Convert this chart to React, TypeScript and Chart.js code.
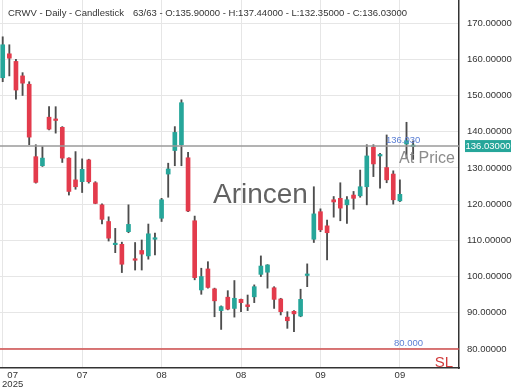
import React, { useEffect, useRef } from 'react';
import { Chart, registerables } from 'chart.js';

Chart.register(...registerables);

// ---- data (63 daily candles) ----
const opens = [
  154.9, 161.5, 159.4, 155.4, 153.1, 133.1, 130.6, 144.0, 143.4, 141.2,
  132.7, 126.7, 126.2, 132.2, 125.9, 119.8, 115.2, 108.8, 108.9, 112.4,
  104.7, 107.2, 105.7, 110.3, 116.1, 128.3, 134.8, 136.4, 132.8, 115.4,
  96.3, 102.1, 96.6, 90.6, 94.3, 91.2, 93.7, 92.2, 94.4, 100.6,
  101.2, 96.9, 93.8, 88.8, 90.4, 89.1, 100.3, 110.3, 117.9, 114.0,
  121.2, 121.6, 119.8, 122.5, 122.3, 124.8, 135.7, 133.3, 130.1, 128.3,
  120.9, 136.6, 135.9,
];
const highs = [
  166.2, 164.0, 160.0, 156.3, 153.8, 136.4, 135.9, 146.9, 146.9, 141.4,
  132.8, 134.5, 132.5, 132.4, 126.2, 120.1, 116.5, 113.3, 109.5, 119.8,
  109.4, 110.1, 114.5, 112.0, 121.6, 131.3, 141.4, 148.8, 134.3, 116.7,
  102.3, 104.1, 96.8, 91.9, 96.1, 98.9, 93.8, 94.9, 97.7, 105.7,
  103.3, 97.2, 94.0, 90.3, 90.6, 96.5, 103.5, 124.8, 118.7, 115.6,
  122.1, 125.9, 122.1, 123.5, 129.4, 136.4, 136.4, 134.0, 139.1, 129.2,
  126.7, 142.6, 137.44,
];
const lows = [
  153.8, 155.4, 149.0, 150.0, 136.4, 125.8, 130.4, 140.5, 139.6, 131.5,
  122.5, 124.1, 123.2, 125.8, 120.1, 114.5, 109.8, 106.6, 101.1, 112.1,
  101.8, 101.8, 104.8, 106.0, 115.2, 121.9, 130.6, 130.6, 117.9, 99.1,
  95.1, 96.8, 88.9, 85.4, 90.8, 88.8, 90.3, 90.6, 92.8, 100.0,
  96.8, 91.2, 89.4, 85.7, 84.8, 88.9, 97.2, 109.4, 112.4, 104.6,
  116.4, 115.4, 114.7, 118.6, 121.9, 119.8, 127.6, 124.4, 125.9, 120.0,
  120.7, 132.8, 132.35,
];
const closes = [
  164.0, 160.3, 151.5, 153.4, 138.5, 126.0, 132.7, 140.7, 143.1, 132.7,
  123.5, 124.8, 129.6, 126.2, 120.2, 115.8, 110.6, 108.9, 103.4, 114.4,
  104.5, 106.2, 111.8, 110.5, 121.2, 129.7, 139.8, 148.0, 118.1, 99.7,
  100.0, 97.0, 93.3, 91.7, 91.0, 94.0, 92.8, 91.7, 97.2, 102.9,
  103.2, 93.7, 90.3, 87.8, 89.7, 93.7, 100.5, 117.3, 112.9, 112.1,
  120.6, 118.9, 121.2, 121.6, 124.8, 133.3, 131.1, 133.7, 126.7, 121.2,
  122.7, 137.5, 136.03,
];

// x-axis ticks (candle index) and their labels
const xTickValues = [0, 1.5, 12, 24, 36, 48, 60];
const xTickLabels: (string | string[])[] = ['', ['07', '2025'], '07', '08', '08', '09', '09'];
// y-axis ticks
const yTickValues = [80, 90, 100, 110, 120, 130, 140, 150, 160, 170];

const titleText = 'CRWV - Daily - Candlestick';
const infoText = '63/63 - O:135.90000 - H:137.44000 - L:132.35000 - C:136.03000';
const watermark = 'Arincen';
const stopLoss = 80;
const lastPrice = closes[closes.length - 1];

const UP = '#26a69a';
const DOWN = '#e33b4c';
const WICK = '#4d4d4d';
const FONT = '"Liberation Sans", Arial, sans-serif';

const zeroPadding = (s: any) => {
  s.paddingLeft = 0;
  s.paddingRight = 0;
  s.paddingTop = 0;
  s.paddingBottom = 0;
};

const overlayPlugin = {
  id: 'overlay',
  beforeDatasetsDraw(chart: any) {
    const { ctx, chartArea: a } = chart;
    ctx.save();
    // watermark
    ctx.font = `28px ${FONT}`;
    ctx.fillStyle = 'rgba(90,90,90,0.95)';
    ctx.textAlign = 'left';
    ctx.textBaseline = 'alphabetic';
    ctx.fillText(watermark, a.left + 213, a.top + 203);
    // title
    ctx.font = `9.5px ${FONT}`;
    ctx.fillStyle = '#333';
    ctx.fillText(titleText, a.left + 8, a.top + 16);
    ctx.fillText(infoText, a.left + 133, a.top + 16);
    ctx.restore();
  },
  afterDatasetsDraw(chart: any) {
    const { ctx, chartArea: a, scales } = chart;
    const y = scales.y;
    const py = y.getPixelForValue(lastPrice);
    const ps = y.getPixelForValue(stopLoss);
    ctx.save();
    // last price line
    ctx.strokeStyle = '#9a9a9a';
    ctx.lineWidth = 1.5;
    ctx.beginPath();
    ctx.moveTo(a.left, py);
    ctx.lineTo(a.right, py);
    ctx.stroke();
    // stop loss line
    ctx.strokeStyle = '#cf4b4b';
    ctx.beginPath();
    ctx.moveTo(a.left, ps);
    ctx.lineTo(a.right, ps);
    ctx.stroke();
    // labels
    ctx.textAlign = 'left';
    ctx.textBaseline = 'alphabetic';
    ctx.font = `9.5px ${FONT}`;
    ctx.fillStyle = '#5b7fd4';
    ctx.fillText(lastPrice.toFixed(3), a.right - 73, py - 3);
    ctx.fillText(stopLoss.toFixed(3), a.right - 65, ps - 3);
    ctx.font = `16px ${FONT}`;
    ctx.fillStyle = '#8c8c8c';
    ctx.fillText('At Price', a.right - 60, py + 17);
    ctx.font = `15px ${FONT}`;
    ctx.fillStyle = '#d03a3a';
    ctx.textAlign = 'right';
    ctx.fillText('SL', a.right - 6, ps + 18);
    // price tag on axis
    ctx.fillStyle = UP;
    ctx.fillRect(a.right + 6, py - 6, 46, 12);
    ctx.fillStyle = '#fff';
    ctx.font = `9.5px ${FONT}`;
    ctx.textAlign = 'center';
    ctx.textBaseline = 'middle';
    ctx.fillText(lastPrice.toFixed(5), a.right + 29, py + 0.5);
    ctx.restore();
  },
};

export default function App() {
  const ref = useRef<HTMLCanvasElement | null>(null);
  useEffect(() => {
    document.body.style.margin = '0';
    const canvas = ref.current;
    if (!canvas) return;
    const idx = opens.map((_, i) => i);
    const colorOf = (i: number) => (closes[i] >= opens[i] ? UP : DOWN);
    const chart = new Chart(canvas, {
      type: 'bar',
      data: {
        datasets: [
          {
            label: 'body',
            data: idx.map((i) => ({ x: i, y: [opens[i], closes[i]] })) as any,
            backgroundColor: (c: any) => colorOf(c.dataIndex),
            barThickness: 4,
            minBarLength: 1.5,
            grouped: false,
            borderWidth: 0,
          },
          {
            label: 'wick',
            data: idx.map((i) => ({ x: i, y: [lows[i], highs[i]] })) as any,
            backgroundColor: WICK,
            barThickness: 1.2,
            grouped: false,
            borderWidth: 0,
          },
        ],
      },
      options: {
        responsive: false,
        animation: false,
        events: [],
        layout: { padding: 0 },
        plugins: { legend: { display: false }, tooltip: { enabled: false }, title: { display: false } },
        scales: {
          x: {
            type: 'linear',
            offset: false,
            min: -0.41,
            max: 68.93,
            afterBuildTicks: (s: any) => {
              s.ticks = xTickValues.map((v) => ({ value: v }));
            },
            afterFit: (s: any) => {
              s.height = 22;
              zeroPadding(s);
            },
            ticks: {
              autoSkip: false,
              maxRotation: 0,
              padding: 3,
              color: '#333',
              font: { family: FONT, size: 9.5, lineHeight: 0.95 },
              callback: (_v: any, i: number) => xTickLabels[i],
            },
            grid: {
              offset: false,
              drawTicks: false,
              color: (c: any) => (c.tick && c.tick.value === 1.5 ? 'rgba(0,0,0,0)' : '#e6e6e6'),
            },
            border: { display: true, color: '#333', width: 1.5 },
          },
          y: {
            type: 'linear',
            position: 'right',
            min: 74.75,
            max: 176.36,
            afterBuildTicks: (s: any) => {
              s.ticks = yTickValues.map((v) => ({ value: v }));
            },
            afterFit: (s: any) => {
              s.width = 61;
              zeroPadding(s);
            },
            ticks: {
              padding: 8,
              color: '#333',
              font: { family: FONT, size: 9.5 },
              callback: (v: any) => Number(v).toFixed(5),
            },
            grid: { drawTicks: false, color: '#e6e6e6' },
            border: { display: true, color: '#333', width: 1.5 },
          },
        },
      },
      plugins: [overlayPlugin],
    });
    return () => chart.destroy();
  }, []);
  return (
    <div style={{ width: 520, height: 390 }}>
      <canvas ref={ref} width={520} height={390} />
    </div>
  );
}
